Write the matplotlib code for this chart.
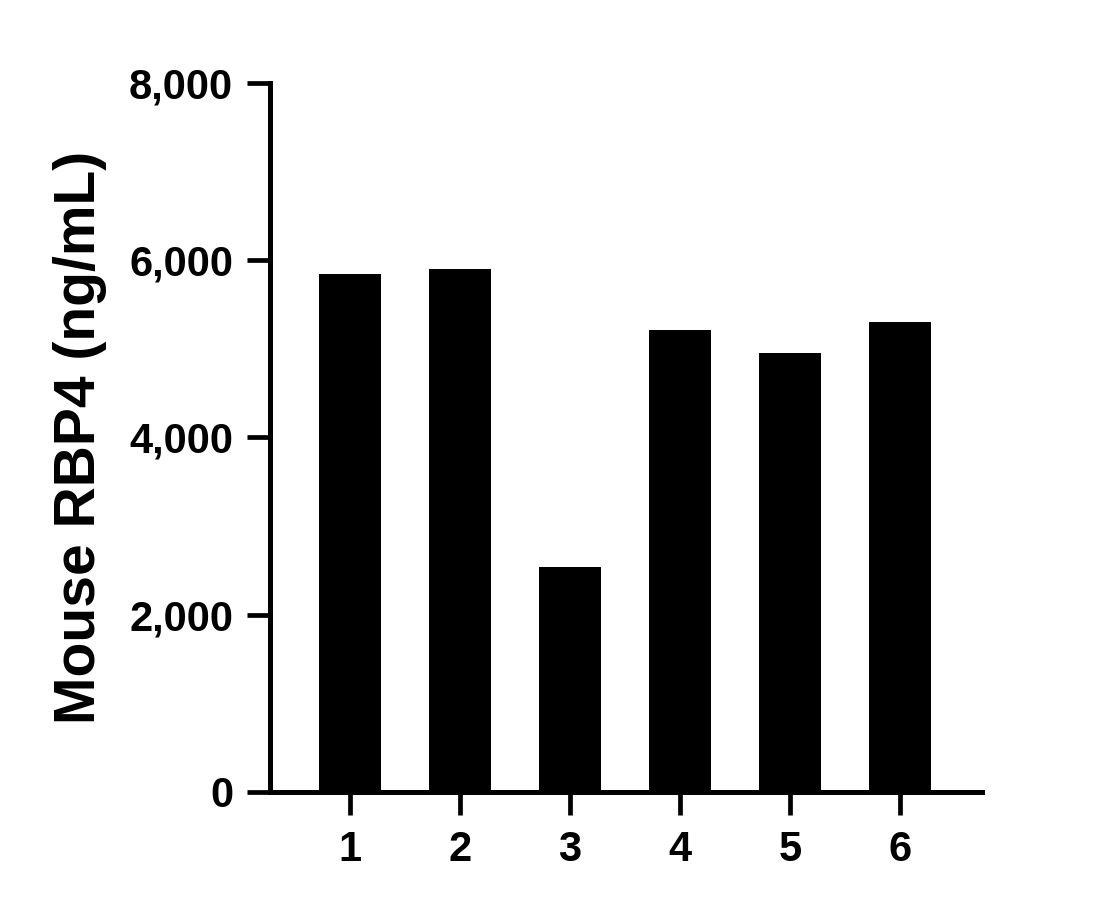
import matplotlib.pyplot as plt
from matplotlib.ticker import FuncFormatter

samples = ['1', '2', '3', '4', '5', '6']
rbp4 = [5840, 5905, 2540, 5215, 4955, 5305]

plt.rcParams['font.family'] = ['Liberation Sans', 'DejaVu Sans']
plt.rcParams['font.weight'] = 'bold'

fig = plt.figure(figsize=(11.18, 9.08), dpi=100)
ax = fig.add_axes([0.2415, 0.1278, 0.6368, 0.7808])

x = range(1, len(samples) + 1)
ax.bar(x, rbp4, width=0.564, color='black')

ax.set_xlim(0.273, 6.745)
ax.set_ylim(0, 8000)
ax.set_yticks([0, 2000, 4000, 6000, 8000])
ax.yaxis.set_major_formatter(FuncFormatter(lambda v, p: f'{int(v):,}'))
ax.set_xticks(list(x))
ax.set_xticklabels(samples)

for side in ['top', 'right']:
    ax.spines[side].set_visible(False)
for side in ['left', 'bottom']:
    ax.spines[side].set_linewidth(3.6)

ax.tick_params(axis='both', length=16.5, width=3.4, labelsize=30, color='black')
ax.tick_params(axis='y', pad=10)
ax.tick_params(axis='x', pad=11)

ax.set_ylabel('Mouse RBP4 (ng/mL)', fontsize=41, fontweight='bold', va='center')
ax.yaxis.set_label_coords(-0.267, 0.5)

fig.savefig('out.png', dpi=100)
